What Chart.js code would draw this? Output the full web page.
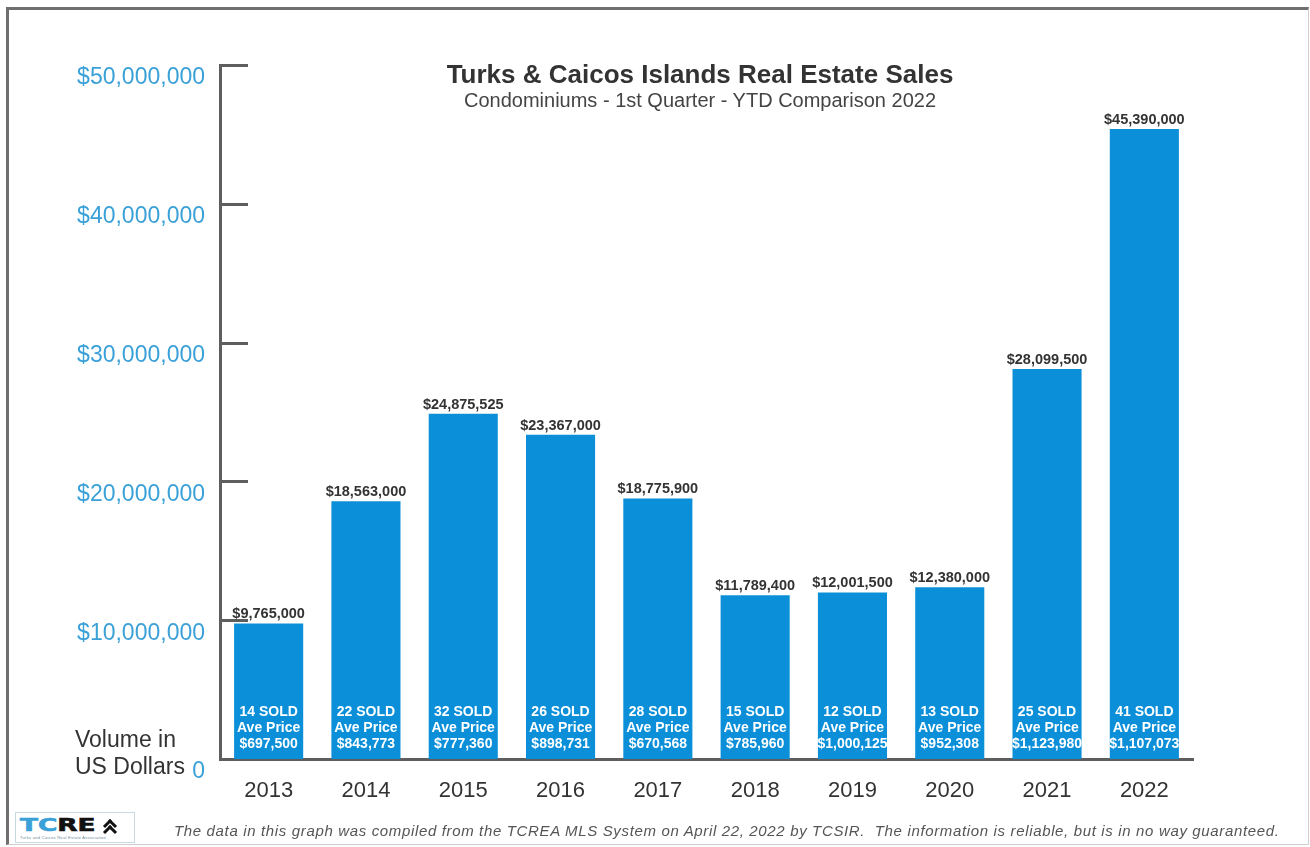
<!DOCTYPE html>
<html>
<head>
<meta charset="utf-8">
<script src="https://cdn.jsdelivr.net/npm/chart.js@4.4.0/dist/chart.umd.min.js"></script>
<style>
    html, body { margin: 0; padding: 0; background: #fff; overflow: hidden; }
    body { font-family: 'Liberation Sans', Arial, sans-serif; }
    #page { position: relative; width: 1310px; height: 847px; }
    #frame {
        position: absolute; left: 6px; top: 7px; width: 1299px; height: 834px;
        border-top: 3px solid #6f6f6f; border-left: 3px solid #6f6f6f;
        border-right: 1px solid #cfcfcf; border-bottom: 1px solid #cfcfcf;
    }
    #chart { position: absolute; left: 0; top: 0; }
    .txt { position: absolute; white-space: nowrap; }
    #title { left: 400px; width: 600px; top: 59px; text-align: center; font-size: 26px; line-height: 30px; font-weight: bold; color: #333; }
    #subtitle { left: 400px; width: 600px; top: 89px; text-align: center; font-size: 20px; line-height: 22px; color: #444; }
    #ytitle { left: 75px; top: 726px; font-size: 23px; line-height: 27px; color: #333; }
    #footer { left: 174px; top: 823px; font-size: 15px; line-height: 16px; font-style: italic; letter-spacing: 0.65px; color: #555; }
    #logo {
        position: absolute; left: 15px; top: 812px; width: 120px; height: 31px;
        border: 1px solid #c9d9e3; box-sizing: border-box; background: #fff;
    }
    #logo .mark {
        position: absolute; left: 4px; top: 3px; font-family: 'DejaVu Sans', sans-serif; font-weight: bold;
        font-size: 17px; line-height: 18px; letter-spacing: 0; transform: scaleX(1.55); transform-origin: left top;
        -webkit-text-stroke: 0.6px currentColor;
    }
    #logo .tc { color: #3aa0d8; }
    #logo .re { color: #111; }
    #logo .roof { position: absolute; left: 89px; width: 7px; height: 7px; border-top: 3px solid #111; border-left: 3px solid #111; transform: rotate(45deg); }
    #logo .small { position: absolute; left: 4px; top: 22px; font-size: 4px; line-height: 5px; color: #6a8aa0; letter-spacing: 0.3px; }
</style>
</head>
<body>
<div id="page">
    <div id="frame"></div>
    <canvas id="chart" width="1310" height="847"></canvas>
    <div class="txt" id="title">Turks &amp; Caicos Islands Real Estate Sales</div>
    <div class="txt" id="subtitle">Condominiums - 1st Quarter - YTD Comparison 2022</div>
    <div class="txt" id="ytitle">Volume in<br>US Dollars</div>
    <div id="logo">
        <span class="mark"><span class="tc">TC</span><span class="re">RE</span></span>
        <span class="roof" style="top:8px"></span>
        <span class="roof" style="top:14px"></span>
        <span class="small">Turks and Caicos Real Estate Association</span>
    </div>
    <div class="txt" id="footer">The data in this graph was compiled from the TCREA MLS System on April 22, 2022 by TCSIR.&nbsp; The information is reliable, but is in no way guaranteed.</div>
</div>
<script>
// --- Data ---
const years = ['2013', '2014', '2015', '2016', '2017', '2018', '2019', '2020', '2021', '2022'];
const salesVolume = [9765000, 18563000, 24875525, 23367000, 18775900, 11789400, 12001500, 12380000, 28099500, 45390000];
const unitsSold = [14, 22, 32, 26, 28, 15, 12, 13, 25, 41];
const avePrice = [697500, 843773, 777360, 898731, 670568, 785960, 1000125, 952308, 1123980, 1107073];
const yMax = 50000000;
const yStep = 10000000;

const AXIS_COLOR = '#5e5e5e';
const BAR_COLOR = '#0b8fd8';
const TICK_BLUE = '#3aa0d8';

const money = (v) => '$' + v.toLocaleString('en-US');

// short tick marks drawn inward from the y axis
const innerTicks = {
    id: 'innerTicks',
    beforeDatasetsDraw(chart) {
        const { ctx, chartArea, scales: { y } } = chart;
        ctx.save();
        ctx.strokeStyle = AXIS_COLOR;
        ctx.lineWidth = 3;
        y.ticks.forEach(t => {
            if (t.value === 0) return;
            const py = Math.round(y.getPixelForValue(t.value)) + 0.5;
            ctx.beginPath();
            ctx.moveTo(chartArea.left, py);
            ctx.lineTo(chartArea.left + 28, py);
            ctx.stroke();
        });
        ctx.restore();
    }
};

// value above each bar, sold count / average price inside at the bottom
const barLabels = {
    id: 'barLabels',
    afterDatasetsDraw(chart) {
        const { ctx } = chart;
        const meta = chart.getDatasetMeta(0);
        ctx.save();
        ctx.textAlign = 'center';
        meta.data.forEach((bar, i) => {
            ctx.fillStyle = '#333';
            ctx.font = 'bold 14.5px "Liberation Sans", Arial, sans-serif';
            ctx.textBaseline = 'alphabetic';
            ctx.fillText(money(salesVolume[i]), bar.x, bar.y - 5);

            ctx.fillStyle = '#fff';
            ctx.font = 'bold 14px "Liberation Sans", Arial, sans-serif';
            ctx.textBaseline = 'middle';
            ctx.fillText(unitsSold[i] + ' SOLD', bar.x, bar.base - 47);
            ctx.fillText('Ave Price', bar.x, bar.base - 31);
            ctx.fillText(money(avePrice[i]), bar.x, bar.base - 15);
        });
        ctx.restore();
    }
};

Chart.defaults.font.family = '"Liberation Sans", Arial, sans-serif';

new Chart(document.getElementById('chart'), {
    type: 'bar',
    data: {
        labels: years,
        datasets: [{
            data: salesVolume,
            backgroundColor: BAR_COLOR,
            borderWidth: 0,
            barPercentage: 0.71,
            categoryPercentage: 1.0
        }]
    },
    options: {
        responsive: false,
        animation: false,
        layout: { padding: { left: 0, right: 117, top: 65, bottom: 0 } },
        scales: {
            x: {
                afterFit: (s) => { s.height = 88; },
                grid: { display: false, drawTicks: false },
                border: { display: true, color: AXIS_COLOR, width: 3 },
                ticks: { color: '#333', font: { size: 22 }, padding: 19, maxRotation: 0 }
            },
            y: {
                min: 0,
                max: yMax,
                afterFit: (s) => { s.width = 220; },
                grid: { display: false, drawTicks: false },
                border: { display: true, color: AXIS_COLOR, width: 3 },
                ticks: {
                    stepSize: yStep,
                    color: TICK_BLUE,
                    font: { size: 23 },
                    padding: 15,
                    labelOffset: 13,
                    callback: (v) => v === 0 ? '0' : money(v)
                }
            }
        },
        plugins: {
            legend: { display: false },
            tooltip: { enabled: false },
            title: { display: false }
        }
    },
    plugins: [innerTicks, barLabels]
});
</script>
</body>
</html>
